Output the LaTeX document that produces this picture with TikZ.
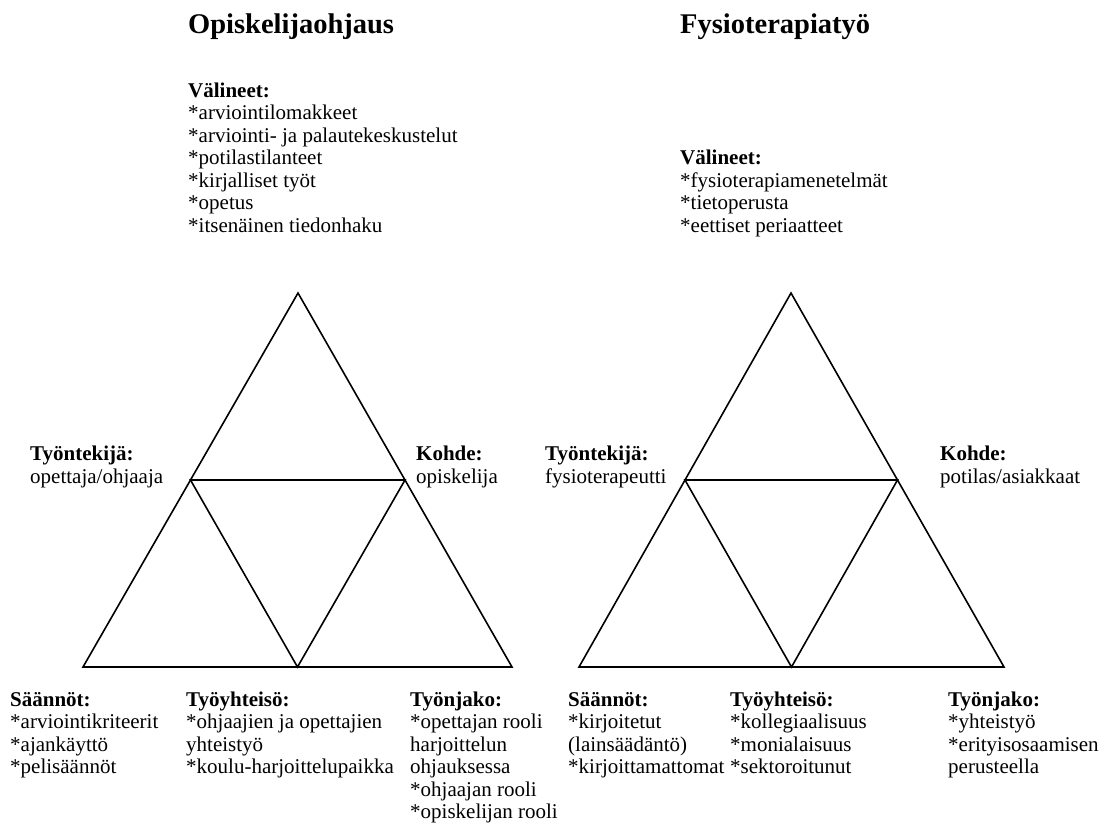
\documentclass[tikz,border=0pt]{standalone}
\usepackage{fontspec}
\setmainfont{Liberation Serif}
\usetikzlibrary{calc}

\tikzset{
  lbl/.style={anchor=base west, inner sep=0pt, align=left,
    font=\fontsize{21}{22.5}\selectfont},
  ttl/.style={anchor=base west, inner sep=0pt,
    font=\fontsize{28.5}{34}\selectfont\bfseries},
  edge/.style={line width=1.6pt, line join=miter}
}

\begin{document}
\begin{tikzpicture}[x=1pt, y=-1pt]
  \useasboundingbox (0,0) rectangle (1109,831);

  % left triangle
  \coordinate (lt) at (298, 293);
  \coordinate (lbl) at (83, 667);
  \coordinate (lbr) at (512, 667);
  \coordinate (ll) at ($(lt)!0.5!(lbl)$);
  \coordinate (lr) at ($(lt)!0.5!(lbr)$);
  \coordinate (lm) at ($(lbl)!0.5!(lbr)$);

  \draw[edge] (lt) -- (lbl) -- (lbr) -- cycle;
  \draw[edge] (ll) -- (lr) -- (lm) -- cycle;

  % right triangle
  \coordinate (rt) at (791, 293);
  \coordinate (rbl) at (579, 667);
  \coordinate (rbr) at (1004, 667);
  \coordinate (rl) at ($(rt)!0.5!(rbl)$);
  \coordinate (rr) at ($(rt)!0.5!(rbr)$);
  \coordinate (rm) at ($(rbl)!0.5!(rbr)$);

  \draw[edge] (rt) -- (rbl) -- (rbr) -- cycle;
  \draw[edge] (rl) -- (rr) -- (rm) -- cycle;

  % left labels (multi-line nodes sit on the baseline of their last line)
  \node[ttl] (ltitle) at (188, 33) {Opiskelijaohjaus};
  \node[lbl] (lvali) at (188, 232) {\textbf{Välineet:}\\{}*arviointilomakkeet\\{}*arviointi- ja palautekeskustelut\\{}*potilastilanteet\\{}*kirjalliset työt\\{}*opetus\\{}*itsenäinen tiedonhaku};
  \node[lbl] (ltekija) at (30, 483) {\textbf{Työntekijä:}\\opettaja/ohjaaja};
  \node[lbl] (lkohde) at (416, 483) {\textbf{Kohde:}\\opiskelija};
  \node[lbl] (lsaannot) at (10, 773.5) {\textbf{Säännöt:}\\{}*arviointikriteerit\\{}*ajankäyttö\\{}*pelisäännöt};
  \node[lbl] (lyhteiso) at (186, 773.5) {\textbf{Työyhteisö:}\\{}*ohjaajien ja opettajien\\yhteistyö\\{}*koulu-harjoittelupaikka};
  \node[lbl] (ljako) at (410, 818.5) {\textbf{Työnjako:}\\{}*opettajan rooli\\harjoittelun\\ohjauksessa\\{}*ohjaajan rooli\\{}*opiskelijan rooli};

  % right labels
  \node[ttl] (rtitle) at (680, 33) {Fysioterapiatyö};
  \node[lbl] (rvali) at (680, 232) {\textbf{Välineet:}\\{}*fysioterapiamenetelmät\\{}*tietoperusta\\{}*eettiset periaatteet};
  \node[lbl] (rtekija) at (545, 483) {\textbf{Työntekijä:}\\fysioterapeutti};
  \node[lbl] (rkohde) at (940, 483) {\textbf{Kohde:}\\potilas/asiakkaat};
  \node[lbl] (rsaannot) at (568, 773.5) {\textbf{Säännöt:}\\{}*kirjoitetut\\(lainsäädäntö)\\{}*kirjoittamattomat};
  \node[lbl] (ryhteiso) at (730, 773.5) {\textbf{Työyhteisö:}\\{}*kollegiaalisuus\\{}*monialaisuus\\{}*sektoroitunut};
  \node[lbl] (rjako) at (948, 773.5) {\textbf{Työnjako:}\\{}*yhteistyö\\{}*erityisosaamisen\\perusteella};
\end{tikzpicture}
\end{document}
